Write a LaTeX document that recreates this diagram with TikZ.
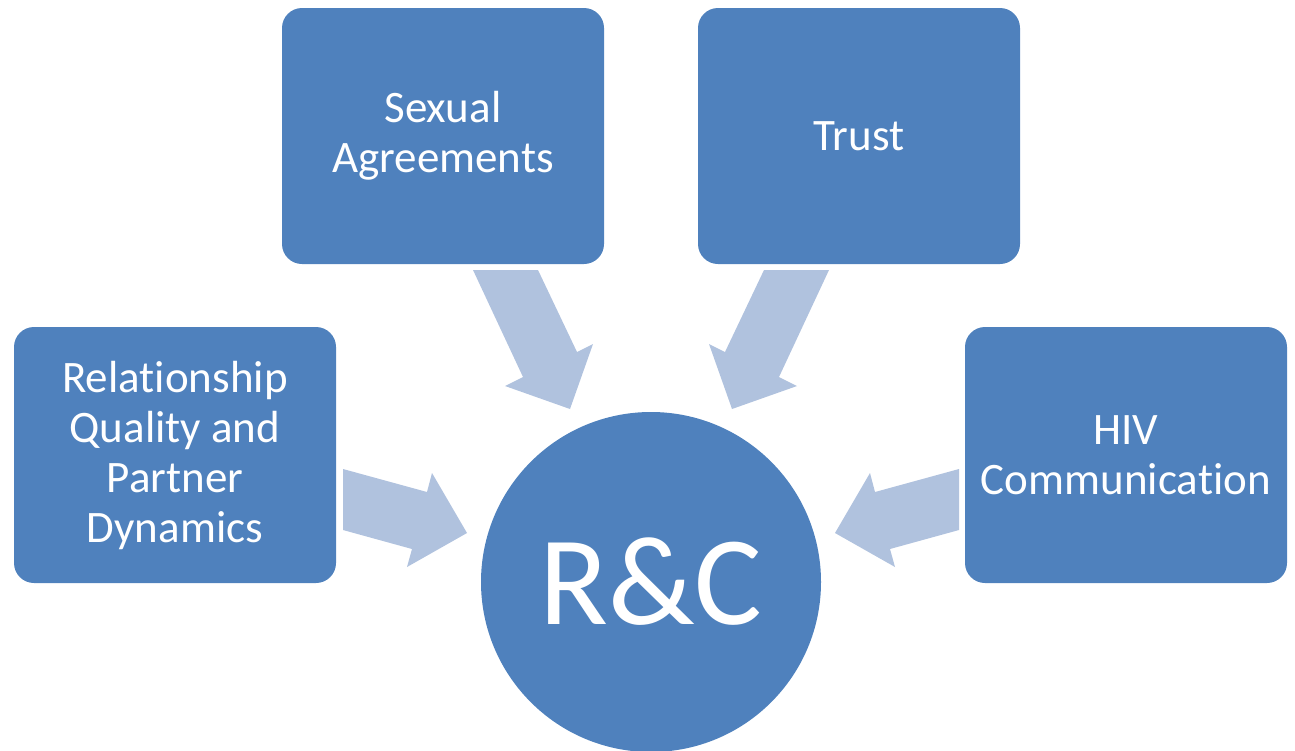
\documentclass[tikz,border=0pt]{standalone}
\usepackage{fontspec}
\setmainfont{Carlito}[RawFeature={-liga;-clig;-calt;-dlig}]
\definecolor{boxblue}{HTML}{4F81BD}
\definecolor{arrowblue}{HTML}{B0C2DE}
\begin{document}
\begin{tikzpicture}[x=1pt,y=-1pt,
  box/.style={fill=boxblue,rounded corners=20pt,minimum width=322pt,minimum height=256pt,
    inner sep=0pt,text=white,align=center,font=\fontsize{45}{50}\selectfont},
  hub/.style={circle,fill=boxblue,minimum size=340pt,inner sep=0pt,text=white,
    font=\fontsize{127}{130}\selectfont},
  blockarrow/.style={fill=arrowblue}]
\useasboundingbox (0,0) rectangle (1295,750);
\node[box] (sex) at (443,136) {Sexual\\Agreements};
\node[box] (trust) at (859,136) {Trust};
\node[box] (rel) at (175,455) {Relationship\\Quality and\\Partner\\Dynamics};
\node[box] (hiv) at (1126,455) {HIV\\Communica\kern0pt tion};
\node[hub] (rc) at (651,582) {R\&C};
% block arrows
\fill[blockarrow] (473,270) -- (538,270) -- (577,352) -- (593,344) -- (570,409) -- (505,386) -- (523,377) -- cycle;
\fill[blockarrow] (829,270) -- (764,270) -- (725,352) -- (709,344) -- (732,409) -- (797,386) -- (779,377) -- cycle;
\fill[blockarrow] (343,469) -- (427,492) -- (432,473) -- (467,533) -- (407,567) -- (412,549) -- (343,530) -- cycle;
\fill[blockarrow] (959,469) -- (875,492) -- (870,473) -- (835,533) -- (895,567) -- (890,549) -- (959,530) -- cycle;
\end{tikzpicture}
\end{document}
